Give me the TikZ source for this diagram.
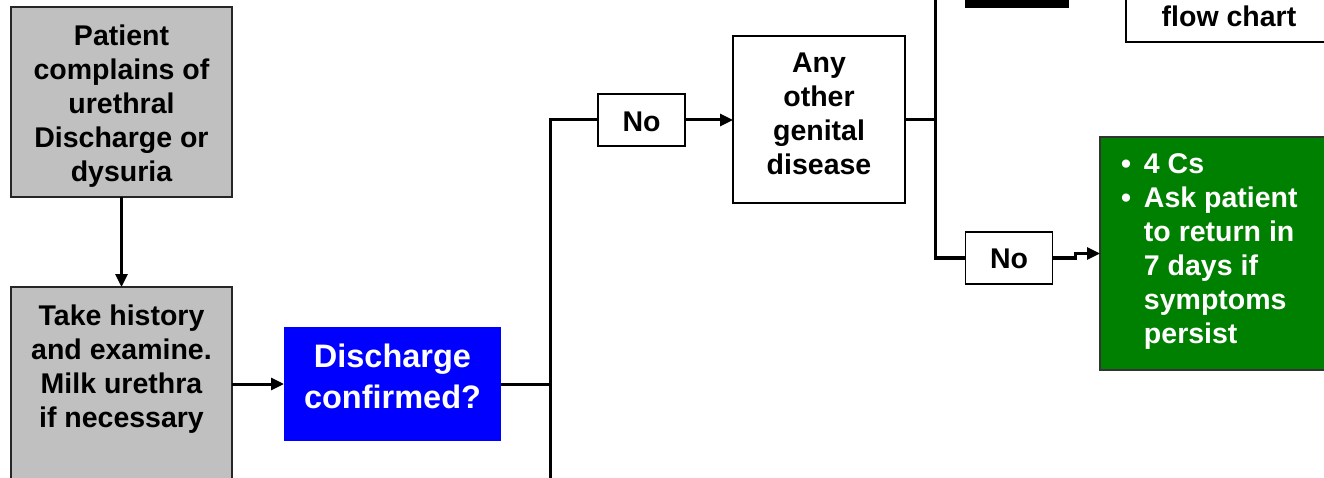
\documentclass[tikz,border=0pt]{standalone}
\usepackage{fontspec}
\setmainfont{Liberation Sans}
\usetikzlibrary{arrows.meta}
\definecolor{boxgray}{RGB}{192,192,192}
\definecolor{okgreen}{RGB}{0,128,0}
\definecolor{qblue}{RGB}{0,0,255}

\begin{document}
\begin{tikzpicture}[x=1pt,y=-1pt,
  every node/.style={inner sep=0pt, outer sep=0pt},
  txt/.style={font=\bfseries\fontsize{28.5}{34}\selectfont},
  bigtxt/.style={font=\bfseries\fontsize{32.5}{41}\selectfont},
  graybox/.style={draw=black!85, line width=1.8pt, fill=boxgray},
  whitebox/.style={draw=black, line width=1.3pt, fill=white},
  nobox/.style={whitebox, txt, minimum width=87pt, minimum height=52pt, text depth=0pt},
  link/.style={line width=3pt, draw=black},
  arrow/.style={link, -{Triangle[length=13pt,width=12pt]}},
]
\useasboundingbox (0,0) rectangle (1324,478);
\clip (0,0) rectangle (1324,478);

% presenting complaint
\node[graybox, minimum width=221pt, minimum height=190pt] (complaint) at (121.5,102) {};
\node[txt, anchor=base] (complainttext) at (121.5,46)
  {\begin{tabular}[t]{@{}c@{}}Patient\\complains of\\urethral\\Discharge or\\dysuria\end{tabular}};

% history and examination
\node[graybox, minimum width=221pt, minimum height=210pt, anchor=north] (history) at (121.5,287) {};
\node[txt, anchor=base] (historytext) at (121.5,325)
  {\begin{tabular}[t]{@{}c@{}}Take history\\and examine.\\Milk urethra\\if necessary\end{tabular}};

% decision
\node[fill=qblue, minimum width=217pt, minimum height=114pt] (confirm) at (392.5,384) {};
\node[bigtxt, text=white, anchor=base] (confirmtext) at (392.5,367)
  {\begin{tabular}[t]{@{}c@{}}Discharge\\confirmed?\end{tabular}};

% other genital disease
\node[nobox, text height=23pt] (no1) at (641.5,120) {No};
\node[whitebox, minimum width=172pt, minimum height=167pt] (other) at (819,119.5) {};
\node[txt, anchor=base] (othertext) at (819,73)
  {\begin{tabular}[t]{@{}c@{}}Any\\other\\genital\\disease\end{tabular}};

\node[nobox, text height=21pt] (no2) at (1009,258) {No};

% advice
\node[draw=black!80, line width=1.8pt, fill=okgreen, minimum width=240pt, minimum height=233pt, anchor=north west] (advice) at (1100,137) {};
\node[txt, text=white, anchor=base west] (advicetext) at (1121,174)
  {\begin{tabular}[t]{@{}l@{\hspace{13pt}}l@{}}\textbullet & 4 Cs\\ \textbullet & Ask patient\\ & to return in\\ & 7 days if\\ & symptoms\\ & persist\end{tabular}};

% boxes continuing above the top edge
\fill[black] (965,-10) rectangle (1069,8);
\node[whitebox, minimum width=210pt, minimum height=90pt, anchor=south west] (seechart) at (1126,42) {};
\node[txt, anchor=base] (seecharttext) at (1229,27) {flow chart};

% connectors
\coordinate (split) at (550,384);
\coordinate (splitbot) at (550,490);
\coordinate (bustop) at (935,-10);

\draw[arrow] (complaint.south) -- (history.north);
\draw[arrow] (history.east |- confirm.west) -- (confirm.west);
\draw[link] (confirm.east) -- (split);
\draw[link] (no1.west) -| (splitbot);
\draw[arrow] (no1.east) -- (other.west |- no1.east);
\draw[link] (other.east) -- (other.east -| bustop);
\draw[link] (bustop) |- (no2.west);
\draw[arrow] (no2.east) -- ++(23,0) |- (advice.west);
\end{tikzpicture}
\end{document}
